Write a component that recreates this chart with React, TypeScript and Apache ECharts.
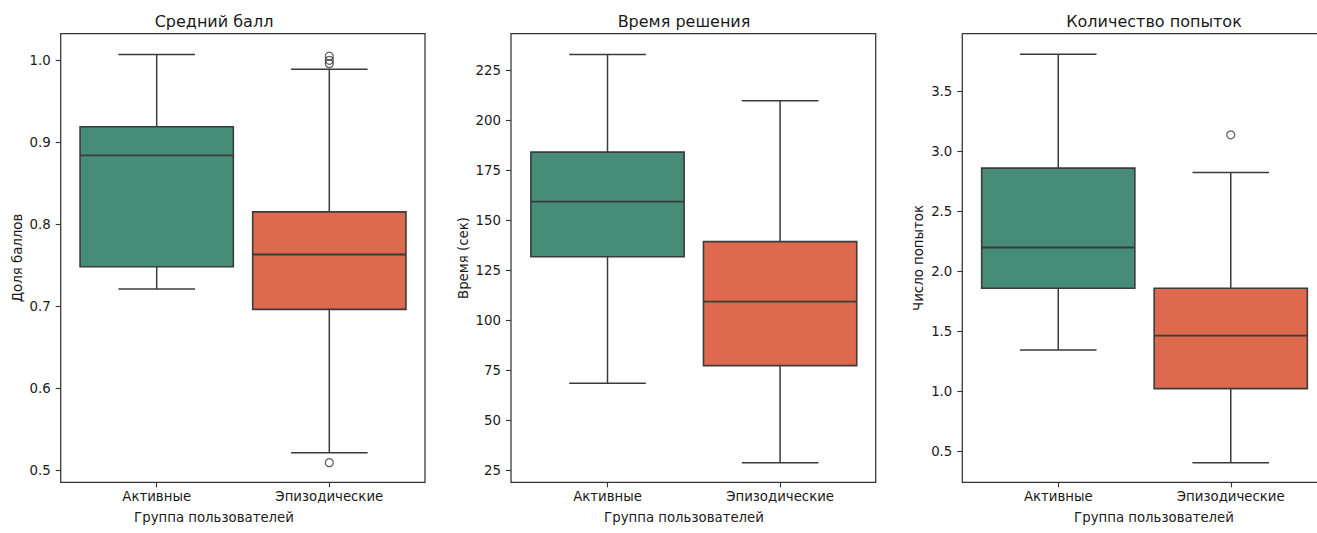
import React, { useEffect, useRef } from "react";
import * as echarts from "echarts";

// ---------- data ----------
const CATEGORIES = ["Активные", "Эпизодические"];
const TITLES = ["Средний балл", "Время решения", "Количество попыток"];
const Y_NAMES = ["Доля баллов", "Время (сек)", "Число попыток"];
const X_NAME = "Группа пользователей";

// [lower whisker, Q1, median, Q3, upper whisker]
const SCORE_STATS = [
  [0.721, 0.748, 0.884, 0.919, 1.007],
  [0.521, 0.696, 0.763, 0.815, 0.989],
];
const SCORE_OUTLIERS = [
  [1, 1.005],
  [1, 1.0],
  [1, 0.996],
  [1, 0.509],
];
const TIME_STATS = [
  [68.5, 131.7, 159.3, 184.0, 232.8],
  [28.8, 77.3, 109.3, 139.3, 209.7],
];
const TIME_OUTLIERS: number[][] = [];
const ATTEMPT_STATS = [
  [1.347, 1.861, 2.2, 2.861, 3.808],
  [0.408, 1.025, 1.467, 1.861, 2.825],
];
const ATTEMPT_OUTLIERS = [[1, 3.138]];

const SCORE_TICKS = [0.5, 0.6, 0.7, 0.8, 0.9, 1.0];
const TIME_TICKS = [25, 50, 75, 100, 125, 150, 175, 200, 225];
const ATTEMPT_TICKS = [0.5, 1.0, 1.5, 2.0, 2.5, 3.0, 3.5];

const SCORE_RANGE = [0.485, 1.0325];
const TIME_RANGE = [19, 243.2];
const ATTEMPT_RANGE = [0.245, 3.98];

// ---------- styles ----------
const BOX_COLORS = ["#468C77", "#DD6A4E"];
const LINE = "#3b3b3b";
const FRAME = "#333333";
const TEXT = "#1a1a1a";
const FONT = "DejaVu Sans";
const FS = 13.3;

const PANELS = [
  { frameLeft: 60.7, frameRight: 425, innerLeft: 70.4, titleX: 214, yNameGap: 37, stats: SCORE_STATS, outliers: SCORE_OUTLIERS, ticks: SCORE_TICKS, range: SCORE_RANGE, dec: 1 },
  { frameLeft: 511, frameRight: 875.7, innerLeft: 521.2, titleX: 684, yNameGap: 41, stats: TIME_STATS, outliers: TIME_OUTLIERS, ticks: TIME_TICKS, range: TIME_RANGE, dec: 0 },
  { frameLeft: 962.3, frameRight: 1326.7, innerLeft: 972, titleX: 1154, yNameGap: 37, stats: ATTEMPT_STATS, outliers: ATTEMPT_OUTLIERS, ticks: ATTEMPT_TICKS, range: ATTEMPT_RANGE, dec: 1 },
];
const INNER_WIDTH = 345.2;
const TOP = 33.7;
const BOTTOM = 482.3;

export default function App() {
  const ref = useRef<HTMLDivElement>(null);

  useEffect(() => {
    if (!ref.current) return;
    const chart = echarts.init(ref.current, null, { renderer: "svg" });

    const grids: any[] = [];
    const xAxes: any[] = [];
    const yAxes: any[] = [];
    const series: any[] = [];
    const graphics: any[] = [];

    PANELS.forEach((p, i) => {
      grids.push({ left: p.innerLeft, top: TOP, width: INNER_WIDTH, height: BOTTOM - TOP, containLabel: false });
      xAxes.push({
        type: "category",
        gridIndex: i,
        data: CATEGORIES,
        axisLine: { show: false },
        axisTick: { show: true, alignWithLabel: true, length: 5, lineStyle: { color: FRAME, width: 1.1 } },
        axisLabel: { color: TEXT, fontSize: FS, fontFamily: FONT, margin: 8 },
        splitLine: { show: false },
      });
      yAxes.push({
        type: "value",
        gridIndex: i,
        min: p.range[0],
        max: p.range[1],
        offset: p.innerLeft - p.frameLeft,
        name: Y_NAMES[i],
        nameLocation: "middle",
        nameGap: p.yNameGap,
        nameTextStyle: { color: TEXT, fontSize: FS, fontFamily: FONT },
        axisLine: { show: false },
        axisTick: { show: true, length: 5, lineStyle: { color: FRAME, width: 1.1 }, customValues: p.ticks },
        axisLabel: {
          color: TEXT,
          fontSize: FS,
          fontFamily: FONT,
          margin: 10,
          customValues: p.ticks,
          formatter: (v: number) => v.toFixed(p.dec),
        },
        splitLine: { show: false },
      });
      series.push({
        type: "custom",
        xAxisIndex: i,
        yAxisIndex: i,
        encode: { x: 0, y: [1, 2, 3, 4, 5] },
        data: p.stats.map((s, k) => [k, ...s]),
        renderItem: (params: any, api: any) => {
          const cat = api.value(0);
          const lo = api.coord([cat, api.value(1)]);
          const q1 = api.coord([cat, api.value(2)]);
          const med = api.coord([cat, api.value(3)]);
          const q3 = api.coord([cat, api.value(4)]);
          const hi = api.coord([cat, api.value(5)]);
          const band = api.size([1, 0])[0];
          const bw = band * 0.888;
          const cw = bw / 2;
          const cx = lo[0];
          const ls = { stroke: LINE, lineWidth: 1.5 };
          return {
            type: "group",
            children: [
              { type: "line", shape: { x1: cx, y1: hi[1], x2: cx, y2: q3[1] }, style: ls },
              { type: "line", shape: { x1: cx, y1: q1[1], x2: cx, y2: lo[1] }, style: ls },
              { type: "line", shape: { x1: cx - cw / 2, y1: hi[1], x2: cx + cw / 2, y2: hi[1] }, style: ls },
              { type: "line", shape: { x1: cx - cw / 2, y1: lo[1], x2: cx + cw / 2, y2: lo[1] }, style: ls },
              {
                type: "rect",
                shape: { x: cx - bw / 2, y: q3[1], width: bw, height: q1[1] - q3[1] },
                style: { fill: BOX_COLORS[params.dataIndex], stroke: LINE, lineWidth: 1.6 },
              },
              { type: "line", shape: { x1: cx - bw / 2, y1: med[1], x2: cx + bw / 2, y2: med[1] }, style: { stroke: LINE, lineWidth: 1.8 } },
            ],
          };
        },
      });
      series.push({
        type: "scatter",
        xAxisIndex: i,
        yAxisIndex: i,
        data: p.outliers,
        symbol: "circle",
        symbolSize: 8,
        itemStyle: { color: "rgba(0,0,0,0)", borderColor: LINE, borderWidth: 1.3 },
        z: 5,
      });
      graphics.push({
        type: "rect",
        z: 100,
        shape: { x: p.frameLeft, y: TOP, width: p.frameRight - p.frameLeft, height: BOTTOM - TOP },
        style: { fill: "none", stroke: FRAME, lineWidth: 1.25 },
      });
      graphics.push({
        type: "text",
        z: 100,
        x: p.titleX,
        y: 21,
        style: { text: TITLES[i], fill: TEXT, font: `16px '${FONT}'`, align: "center", verticalAlign: "middle" },
      });
      graphics.push({
        type: "text",
        z: 100,
        x: p.titleX,
        y: 517,
        style: { text: X_NAME, fill: TEXT, font: `${FS}px '${FONT}'`, align: "center", verticalAlign: "middle" },
      });
    });

    chart.setOption({
      animation: false,
      backgroundColor: "#ffffff",
      grid: grids,
      xAxis: xAxes,
      yAxis: yAxes,
      series,
      graphic: graphics,
    });

    return () => chart.dispose();
  }, []);

  return (
    <div
      ref={ref}
      style={{ position: "fixed", left: 0, top: 0, width: 1317, height: 533, background: "#fff" }}
    />
  );
}
